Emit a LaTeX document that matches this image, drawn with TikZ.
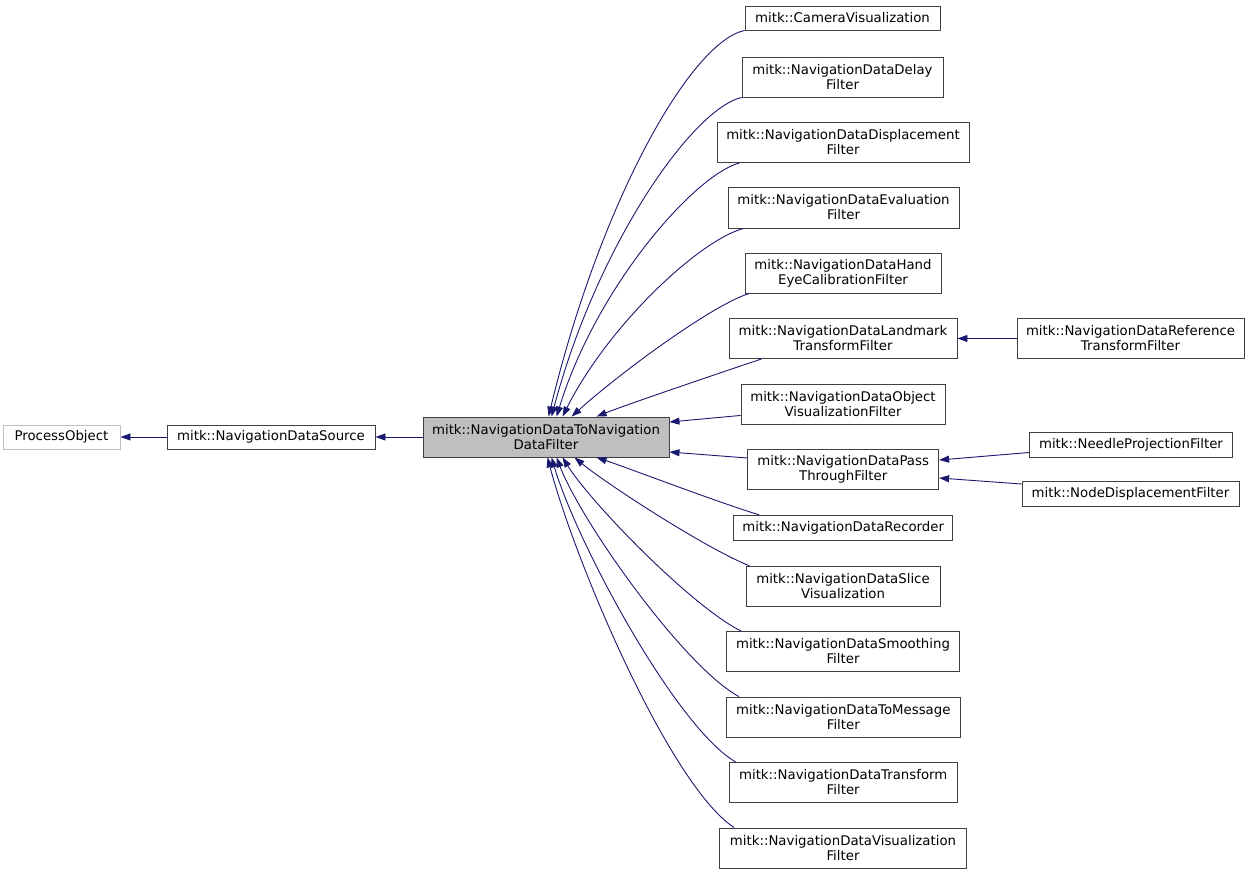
\documentclass[tikz,border=0pt]{standalone}
\usepackage{fontspec}
\setmainfont{DejaVu Sans}
\usetikzlibrary{arrows.meta}
\definecolor{edgeblue}{HTML}{191970}
\definecolor{boxgray}{HTML}{404040}
\definecolor{fadedgray}{HTML}{BFBFBF}

\begin{document}
\begin{tikzpicture}[x=1pt,y=-1pt,
  cls/.style={draw=boxgray, fill=white, line width=0.9pt, inner sep=0pt, align=center, font=\fontsize{13.3}{15}\selectfont},
  inh/.style={draw=edgeblue, line width=0.9pt, -{Triangle[length=10pt,width=7pt]}}]
\useasboundingbox (0,0) rectangle (1249,874);

\node[cls, draw=fadedgray, minimum width=117, minimum height=24] (procobj) at (61.5,437) {ProcessObject};
\node[cls, minimum width=208, minimum height=24] (navsource) at (271,437) {mitk::NavigationDataSource};
\node[cls, fill=fadedgray, minimum width=246, minimum height=40] (tonav) at (546,437) {mitk::NavigationDataToNavigation\\DataFilter};

\node[cls, minimum width=195, minimum height=24] (camvis) at (842.5,18) {mitk::CameraVisualization};
\node[cls, minimum width=201, minimum height=40] (delay) at (842.5,77) {mitk::NavigationDataDelay\\Filter};
\node[cls, minimum width=252, minimum height=40] (displacement) at (843,142.5) {mitk::NavigationDataDisplacement\\Filter};
\node[cls, minimum width=231, minimum height=41] (evaluation) at (843.5,207.5) {mitk::NavigationDataEvaluation\\Filter};
\node[cls, minimum width=196, minimum height=40] (handeye) at (843,273) {mitk::NavigationDataHand\\EyeCalibrationFilter};
\node[cls, minimum width=228, minimum height=40] (landmark) at (843,338.5) {mitk::NavigationDataLandmark\\TransformFilter};
\node[cls, minimum width=204, minimum height=40] (objvis) at (843,404) {mitk::NavigationDataObject\\VisualizationFilter};
\node[cls, minimum width=191, minimum height=40] (passthrough) at (843.2,469) {mitk::NavigationDataPass\\ThroughFilter};
\node[cls, minimum width=219, minimum height=25] (recorder) at (843.2,527.8) {mitk::NavigationDataRecorder};
\node[cls, minimum width=194, minimum height=40] (slicevis) at (843,586.3) {mitk::NavigationDataSlice\\Visualization};
\node[cls, minimum width=233, minimum height=40] (smoothing) at (843,651.5) {mitk::NavigationDataSmoothing\\Filter};
\node[cls, minimum width=234, minimum height=40] (tomessage) at (843.3,717) {mitk::NavigationDataToMessage\\Filter};
\node[cls, minimum width=228, minimum height=40] (transform) at (843.2,782.5) {mitk::NavigationDataTransform\\Filter};
\node[cls, minimum width=247, minimum height=40] (visfilter) at (843,848) {mitk::NavigationDataVisualization\\Filter};

\node[cls, minimum width=227, minimum height=40] (reftransform) at (1130.5,338.5) {mitk::NavigationDataReference\\TransformFilter};
\node[cls, minimum width=203, minimum height=25] (needleproj) at (1131,444.5) {mitk::NeedleProjectionFilter};
\node[cls, minimum width=217, minimum height=25] (nodedisp) at (1130.5,494) {mitk::NodeDisplacementFilter};

\draw[inh] (navsource.west) -- (procobj.east);
\draw[inh] (tonav.west) -- (navsource.east);

\draw[inh] (camvis.south west) .. controls +(-55,12) and +(51,-212) .. ([xshift=126pt]tonav.north west);
\draw[inh] (delay.south west) .. controls +(-50,12) and +(45,-170) .. ([xshift=129pt]tonav.north west);
\draw[inh] ([xshift=23pt]displacement.south west) .. controls +(-45,12) and +(40,-130) .. ([xshift=134pt]tonav.north west);
\draw[inh] ([xshift=16pt]evaluation.south west) .. controls +(-45,12) and +(45,-90) .. ([xshift=140pt]tonav.north west);
\draw[inh] ([xshift=5pt]handeye.south west) .. controls +(-35,10) and +(50,-45) .. ([xshift=149pt]tonav.north west);
\draw[inh] ([xshift=33pt]landmark.south west) .. controls +(-30,10) and +(30,-12) .. ([xshift=174pt]tonav.north west);
\draw[inh] ([yshift=9pt]objvis.south west) -- ([yshift=15pt]tonav.east);
\draw[inh] ([yshift=11pt]passthrough.west) -- ([yshift=-15pt]tonav.east);
\draw[inh] ([xshift=26pt]recorder.north west) .. controls +(-40,-12) and +(30,10) .. ([xshift=174pt]tonav.south west);
\draw[inh] ([xshift=4pt]slicevis.north west) .. controls +(-45,-18) and +(30,25) .. ([xshift=152pt]tonav.south west);
\draw[inh] ([xshift=15pt]smoothing.north west) .. controls +(-50,-25) and +(28,45) .. ([xshift=140pt]tonav.south west);
\draw[inh] ([xshift=13pt]tomessage.north west) .. controls +(-55,-30) and +(25,65) .. ([xshift=134pt]tonav.south west);
\draw[inh] ([xshift=7pt]transform.north west) .. controls +(-60,-35) and +(25,85) .. ([xshift=129pt]tonav.south west);
\draw[inh] ([xshift=15pt]visfilter.north west) .. controls +(-65,-43) and +(27,103) .. ([xshift=125pt]tonav.south west);

\draw[inh] (reftransform.west) -- (landmark.east);
\draw[inh] ([yshift=-8pt]needleproj.west) -- ([yshift=9pt]passthrough.east);
\draw[inh] ([yshift=10pt]nodedisp.west) -- ([yshift=-9pt]passthrough.east);
\end{tikzpicture}
\end{document}
